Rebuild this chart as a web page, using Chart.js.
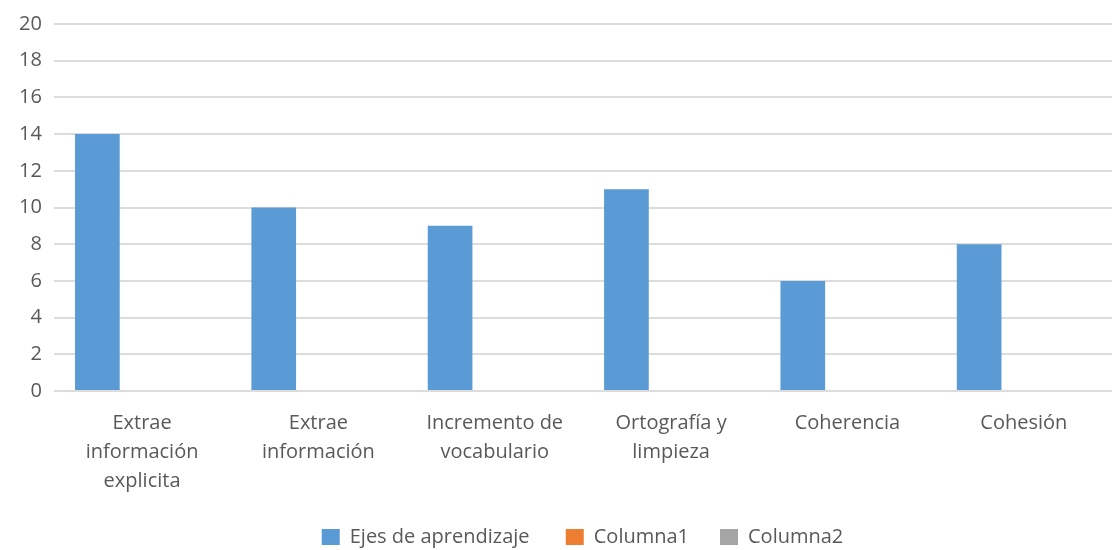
<!DOCTYPE html>
<html>
<head>
<meta charset="utf-8">
<script src="https://cdn.jsdelivr.net/npm/chart.js@4.4.1/dist/chart.umd.min.js"></script>
<style>
  html, body { margin: 0; padding: 0; background: #fff; }
  #wrap { width: 1112px; height: 550px; }
</style>
</head>
<body>
<div id="wrap"><canvas id="ejesChart" width="1112" height="550"></canvas></div>
<script>
// ejes evaluados y puntajes
const categorias = [
    ['Extrae', 'información', 'explicita'],
    ['Extrae', 'información'],
    ['Incremento de', 'vocabulario'],
    ['Ortografía y', 'limpieza'],
    ['Coherencia'],
    ['Cohesión']
];
const ejesAprendizaje = [14, 10, 9, 11, 6, 8];
const columna1 = [null, null, null, null, null, null];
const columna2 = [null, null, null, null, null, null];
const nombresSeries = ['Ejes de aprendizaje', 'Columna1', 'Columna2'];

const textoGris = '#595959';
const fuente = "'Open Sans', 'Liberation Sans', sans-serif";
const separaciones = ['      ', '     ', ''];

// corre la leyenda un poco a la derecha
const moverLeyenda = {
    id: 'moverLeyenda',
    afterLayout(chart) {
        chart.legend.left += 23;
        chart.legend.right += 23;
    }
};

const ctx = document.getElementById('ejesChart').getContext('2d');
window.ejesChart = new Chart(ctx, {
    type: 'bar',
    data: {
        labels: categorias,
        datasets: [
            { label: nombresSeries[0], data: ejesAprendizaje, backgroundColor: '#5b9bd5' },
            { label: nombresSeries[1], data: columna1, backgroundColor: '#ed7d31' },
            { label: nombresSeries[2], data: columna2, backgroundColor: '#a5a5a5' }
        ]
    },
    options: {
        responsive: false,
        animation: false,
        layout: {
            padding: { top: 3, right: 0, bottom: -7, left: 7 }
        },
        datasets: {
            bar: { categoryPercentage: 0.76, barPercentage: 1.0 }
        },
        plugins: {
            legend: {
                position: 'bottom',
                labels: {
                    boxWidth: 18,
                    boxHeight: 16,
                    padding: 5,
                    color: textoGris,
                    font: { family: fuente, size: 20 },
                    // espacio extra entre items de la leyenda
                    generateLabels: function (chart) {
                        const items = Chart.defaults.plugins.legend.labels.generateLabels(chart);
                        items.forEach((it, i) => {
                            it.text = it.text + separaciones[i];
                        });
                        return items;
                    }
                }
            },
            tooltip: { enabled: false }
        },
        scales: {
            x: {
                grid: { display: false, drawTicks: false },
                border: { display: false },
                afterFit: function (axis) {
                    axis.height = 131;
                },
                ticks: {
                    color: textoGris,
                    maxRotation: 0,
                    autoSkip: false,
                    padding: 18,
                    font: { family: fuente, size: 20, lineHeight: 1.45 }
                }
            },
            y: {
                min: 0,
                max: 20,
                grid: { color: '#dcdcdc', lineWidth: 2, drawTicks: false },
                border: { display: false },
                ticks: {
                    stepSize: 2,
                    color: textoGris,
                    padding: 12,
                    font: { family: fuente, size: 20 }
                }
            }
        }
    },
    plugins: [moverLeyenda]
});
</script>
</body>
</html>
